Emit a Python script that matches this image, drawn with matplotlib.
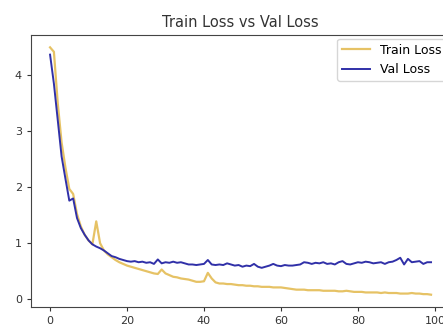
import matplotlib
matplotlib.use("Agg")
import matplotlib.pyplot as plt

# wartosci (epoki 0..99)
train_loss = [4.50, 4.42, 3.50, 2.80, 2.35, 1.97, 1.88, 1.52, 1.30, 1.15,
              1.05, 0.98, 1.39, 1.00, 0.87, 0.80, 0.75, 0.70, 0.66, 0.63,
              0.60, 0.58, 0.56, 0.54, 0.52, 0.50, 0.48, 0.46, 0.45, 0.53,
              0.46, 0.43, 0.40, 0.39, 0.37, 0.36, 0.35, 0.33, 0.31, 0.31,
              0.32, 0.47, 0.37, 0.30, 0.28, 0.28, 0.27, 0.27, 0.26, 0.25,
              0.25, 0.24, 0.24, 0.23, 0.23, 0.22, 0.22, 0.22, 0.21, 0.21,
              0.21, 0.20, 0.19, 0.18, 0.17, 0.17, 0.17, 0.16, 0.16, 0.16,
              0.16, 0.15, 0.15, 0.15, 0.15, 0.14, 0.14, 0.15, 0.14, 0.13,
              0.13, 0.13, 0.12, 0.12, 0.12, 0.12, 0.11, 0.12, 0.11, 0.11,
              0.11, 0.10, 0.10, 0.10, 0.11, 0.10, 0.10, 0.09, 0.09, 0.08]

val_loss = [4.37, 3.85, 3.20, 2.55, 2.15, 1.76, 1.80, 1.45, 1.27, 1.15,
            1.05, 0.98, 0.94, 0.91, 0.87, 0.82, 0.77, 0.75, 0.72, 0.70,
            0.68, 0.67, 0.68, 0.66, 0.67, 0.65, 0.66, 0.63, 0.71, 0.64,
            0.66, 0.65, 0.67, 0.65, 0.66, 0.64, 0.62, 0.62, 0.61, 0.62,
            0.63, 0.70, 0.62, 0.61, 0.62, 0.61, 0.64, 0.62, 0.60, 0.61,
            0.58, 0.60, 0.59, 0.63, 0.58, 0.56, 0.58, 0.60, 0.63, 0.60,
            0.59, 0.61, 0.60, 0.60, 0.61, 0.62, 0.66, 0.65, 0.63, 0.65,
            0.64, 0.66, 0.63, 0.64, 0.62, 0.66, 0.68, 0.63, 0.62, 0.64,
            0.66, 0.65, 0.67, 0.66, 0.64, 0.65, 0.66, 0.63, 0.66, 0.67,
            0.70, 0.74, 0.62, 0.72, 0.66, 0.67, 0.68, 0.63, 0.66, 0.66]

epoki = list(range(len(train_loss)))

fig = plt.figure(figsize=(4.43, 3.27), dpi=100)
# os wychodzi poza prawa krawedz jak na oryginalnym (przycietym) obrazku
ax = fig.add_axes([0.070, 0.061, 0.946, 0.832])

ax.plot(epoki, train_loss, color='#E2B84A', alpha=0.85, linewidth=1.6, label='Train Loss')
ax.plot(epoki, val_loss, color='#3030A8', linewidth=1.4, label='Val Loss')

ax.set_title('Train Loss vs Val Loss', fontsize=10.5, color='#333333')
ax.tick_params(labelsize=8, colors='#333333', length=3)
ax.set_xticks([0, 20, 40, 60, 80, 100])
ax.set_yticks([0, 1, 2, 3, 4])
for s in ax.spines.values():
    s.set_color('#444444')
ax.legend(loc='upper right', fontsize=9, handlelength=2.2, borderaxespad=0.3)

fig.savefig('out.png', dpi=100)
